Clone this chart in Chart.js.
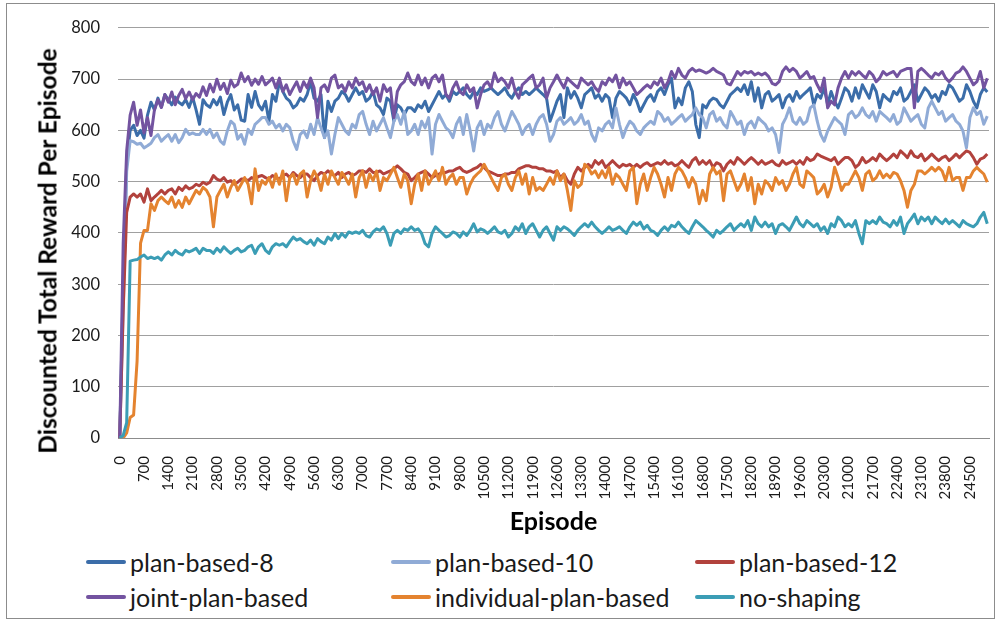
<!DOCTYPE html>
<html>
<head>
<meta charset="utf-8">
<script src="https://cdn.jsdelivr.net/npm/chart.js@4/dist/chart.umd.min.js"></script>
<style>
  body { margin: 0; background: #fff; font-family: Lato, "Noto Sans", sans-serif; }
  #wrap { position: relative; width: 1000px; height: 623px; }
  #frame { position: absolute; left: 6px; top: 3px; width: 987px; height: 614px; border: 1px solid #8c8c8c; }
  #chartBox { position: absolute; left: 0; top: 0; width: 1000px; height: 545px; }
  #yTitle { position: absolute; left: 47px; top: 251px; transform: translate(-50%, -50%) rotate(-90deg);
            font-size: 24.5px; font-weight: bold; color: #000; white-space: nowrap; }
  .leg { position: absolute; height: 30px; display: flex; align-items: center; font-size: 25px; color: #1a1a1a; white-space: nowrap; }
  .leg span.sw { display: inline-block; width: 40px; height: 4px; border-radius: 2px; margin-right: 4px; }
</style>
</head>
<body>
<div id="wrap">
  <div id="frame"></div>
  <div id="chartBox"><canvas id="rewardChart"></canvas></div>
  <div id="yTitle">Discounted Total Reward Per Episode</div>
  <div id="legend"></div>
</div>
<script>
const episodeStep = 100;
const episodeCount = 251;
const labelEvery = 7;

const seriesNames = ["plan-based-8", "plan-based-10", "plan-based-12", "joint-plan-based", "individual-plan-based", "no-shaping"];
const seriesColors = ["#3b6da9", "#90abd6", "#b2423d", "#7353a0", "#e4832f", "#3b9db5"];

const planBased8 = [
  0, 300, 540, 600, 610, 590, 600, 585, 630, 655, 640, 663, 645, 670, 660, 650, 665, 655, 650, 660,
  645, 665, 640, 612, 660, 650, 645, 660, 650, 665, 631, 655, 670, 640, 650, 620, 618, 670, 645, 676,
  650, 640,
  657, 618, 670, 657, 695, 676, 663, 657, 644, 650, 663, 657, 670, 695, 663, 657, 670, 586, 657, 637,
  657, 663, 676, 670, 657, 670, 683, 670, 676, 657, 663, 676, 650, 644, 631, 663, 657, 618, 650, 644,
  631, 644,
  644, 637, 650, 644, 657, 637, 650, 663, 676, 663, 670, 657, 676, 670, 676, 683, 670, 663, 676, 670,
  683, 676, 679, 683, 676, 670, 676, 683, 670, 663, 676, 683, 670, 676, 670, 676, 683, 676, 670, 663,
  618, 637,
  657, 670, 625, 683, 663, 676, 663, 644, 670, 676, 683, 663, 670, 657, 670, 663, 625, 663, 676, 670,
  663, 650, 670, 657, 637, 650, 663, 670, 657, 676, 683, 670, 689, 702, 644, 663, 650, 683, 695, 676,
  612, 586,
  650, 644, 657, 663, 660, 650, 644, 657, 670, 676, 683, 676, 689, 670, 695, 657, 683, 644, 670, 676,
  657, 663, 670, 644, 663, 670, 657, 676, 663, 670, 676, 683, 650, 670, 663, 683, 650, 676, 657, 644,
  663, 683,
  676, 657, 683, 663, 689, 676, 663, 689, 676, 644, 670, 663, 657, 676, 670, 683, 657, 663, 676, 689,
  657, 670, 683, 676, 663, 670, 657, 676, 670, 689, 683, 670, 657, 663, 689, 676, 657, 644, 670, 683,
  675
];

const planBased10 = [
  0, 250, 520, 580, 578, 573, 575, 566, 570, 575, 586, 592, 579, 586, 592, 579, 592, 576, 586, 602,
  592, 595, 592, 592, 602, 592, 602, 586, 595, 579, 573, 599, 618, 612, 583, 592, 573, 602, 592, 612,
  618, 625,
  625, 612, 618, 605, 612, 599, 612, 605, 579, 563, 592, 599, 586, 612, 592, 625, 605, 586, 599, 554,
  592, 625, 612, 599, 592, 612, 605, 631, 637, 612, 592, 618, 599, 612, 625, 605, 586, 618, 631, 612,
  637, 592,
  599, 612, 592, 618, 605, 625, 554, 612, 631, 618, 605, 599, 586, 612, 625, 592, 631, 599, 560, 605,
  618, 592, 612, 605, 625, 637, 612, 599, 618, 637, 625, 612, 592, 605, 612, 592, 612, 625, 631, 612,
  579, 592,
  618, 625, 612, 618, 625, 612, 618, 631, 612, 618, 592, 579, 605, 599, 612, 618, 605, 644, 612, 586,
  605, 618, 612, 599, 592, 605, 612, 618, 612, 637, 631, 618, 625, 612, 618, 625, 631, 618, 625, 631,
  644, 631,
  625, 605, 631, 637, 618, 625, 612, 605, 637, 625, 612, 618, 592, 612, 618, 605, 625, 618, 612, 599,
  605, 592, 557, 612, 625, 644, 618, 612, 625, 612, 618, 644, 650, 618, 592, 579, 599, 612, 625, 618,
  612, 592,
  631, 637, 625, 631, 644, 631, 625, 637, 618, 637, 631, 625, 618, 631, 612, 618, 644, 631, 618, 625,
  631, 612, 605, 644, 657, 644, 631, 637, 618, 625, 631, 618, 612, 599, 566, 625, 644, 631, 637, 612,
  628
];

const planBased12 = [
  0, 250, 440, 470, 476, 470, 476, 460, 486, 463, 470, 476, 483, 476, 483, 486, 476, 489, 483, 492,
  486, 489, 495, 492, 499, 495, 499, 512, 505, 502, 508, 499, 502, 495, 499, 505, 505, 502, 508, 505,
  510, 512,
  508, 505, 512, 508, 505, 512, 515, 508, 518, 512, 508, 515, 515, 508, 502, 512, 518, 515, 521, 515,
  512, 518, 508, 515, 518, 512, 515, 521, 521, 518, 525, 518, 518, 521, 515, 518, 521, 525, 531, 525,
  518, 515,
  502, 508, 515, 518, 521, 515, 508, 512, 515, 518, 518, 521, 521, 525, 528, 521, 518, 521, 525, 528,
  534, 528, 521, 518, 515, 512, 512, 515, 515, 518, 518, 525, 528, 531, 531, 528, 528, 525, 525, 521,
  521, 518,
  521, 508, 515, 502, 495, 515, 528, 521, 528, 534, 528, 541, 534, 541, 528, 534, 541, 534, 528, 534,
  531, 534, 528, 534, 528, 534, 537, 531, 534, 537, 534, 541, 534, 537, 531, 534, 541, 534, 528, 541,
  547, 534,
  541, 534, 541, 528, 537, 534, 521, 534, 541, 534, 547, 541, 534, 541, 547, 541, 534, 541, 534, 537,
  541, 534, 531, 541, 534, 537, 541, 534, 541, 534, 547, 541, 544, 554, 550, 547, 544, 541, 547, 534,
  541, 547,
  547, 541, 528, 534, 547, 537, 541, 547, 541, 554, 547, 541, 547, 554, 547, 560, 554, 547, 560, 550,
  547, 554, 541, 547, 554, 547, 541, 547, 550, 541, 547, 554, 547, 554, 560, 557, 547, 534, 544, 547,
  554
];

const jointPlanBased = [
  0, 380, 560, 630, 655, 610, 640, 595, 625, 590, 640, 660, 645, 670, 655, 675, 650, 668, 680, 662,
  675, 660, 672, 665, 685, 668, 690, 675, 700, 680, 692, 672, 698, 685, 690, 712, 695, 705, 688, 700,
  690, 705,
  689, 695, 702, 683, 702, 676, 689, 670, 683, 695, 676, 695, 683, 702, 683, 625, 683, 689, 676, 702,
  708, 683, 689, 676, 695, 683, 702, 689, 695, 676, 689, 670, 683, 657, 689, 676, 683, 625, 676, 689,
  695, 712,
  695, 689, 708, 689, 702, 683, 702, 708, 695, 708, 670, 663, 683, 695, 676, 670, 689, 676, 683, 644,
  670, 689, 695, 683, 712, 695, 702, 695, 683, 702, 676, 663, 689, 695, 702, 708, 683, 689, 702, 663,
  683, 695,
  708, 695, 683, 702, 695, 689, 683, 702, 695, 689, 695, 683, 676, 695, 689, 702, 695, 708, 683, 702,
  689, 695, 683, 670, 676, 683, 689, 683, 695, 689, 702, 683, 695, 715, 702, 721, 708, 702, 715, 721,
  715, 718,
  715, 712, 715, 721, 715, 712, 708, 692, 689, 702, 715, 708, 715, 712, 715, 708, 712, 708, 712, 705,
  692, 689, 695, 715, 724, 715, 721, 715, 702, 708, 715, 702, 705, 689, 676, 702, 644, 657, 650, 683,
  702, 715,
  702, 715, 708, 715, 708, 702, 715, 708, 695, 702, 715, 708, 712, 715, 705, 715, 718, 721, 721, 644,
  715, 721, 715, 708, 702, 712, 708, 715, 702, 695, 702, 712, 715, 724, 715, 702, 689, 695, 715, 683,
  702
];

const individualPlanBased = [
  0, 0, 10, 40, 45, 150, 380, 405, 405, 457, 444, 463, 470, 463, 457, 470, 450, 463, 450, 470,
  457, 470, 483, 476, 489, 483, 470, 412, 470, 483, 495, 470, 489, 502, 483, 495, 508, 495, 457, 525,
  483, 502,
  495, 508, 489, 515, 495, 521, 463, 508, 515, 495, 515, 521, 470, 502, 521, 508, 483, 515, 495, 521,
  508, 495, 518, 508, 495, 515, 470, 508, 521, 489, 515, 502, 521, 483, 508, 502, 515, 528, 508, 489,
  515, 502,
  457, 495, 515, 483, 521, 495, 508, 521, 502, 528, 495, 508, 515, 495, 508, 508, 476, 495, 508, 515,
  521, 534, 521, 508, 495, 483, 508, 515, 495, 483, 508, 521, 495, 515, 476, 508, 483, 489, 483, 495,
  508, 495,
  521, 502, 515, 483, 444, 502, 489, 495, 534, 528, 515, 521, 508, 521, 508, 528, 495, 515, 508, 495,
  483, 521, 528, 457, 495, 515, 483, 508, 528, 515, 495, 470, 508, 483, 515, 528, 521, 508, 489, 508,
  495, 457,
  483, 463, 515, 528, 515, 521, 463, 515, 521, 502, 483, 495, 515, 483, 508, 457, 495, 476, 502, 495,
  483, 508, 495, 502, 483, 495, 515, 528, 495, 489, 521, 515, 508, 476, 483, 495, 470, 489, 528, 508,
  483, 495,
  495, 508, 521, 508, 483, 515, 521, 502, 508, 521, 508, 515, 508, 518, 515, 502, 483, 450, 483, 495,
  521, 521, 515, 521, 528, 521, 528, 521, 502, 528, 502, 508, 508, 483, 508, 508, 521, 528, 521, 515,
  499
];

const noShaping = [
  0, 5, 30, 345, 347, 348, 353, 357, 350, 353, 350, 353, 347, 357, 363, 357, 366, 360, 357, 366,
  363, 366, 370, 360, 370, 366, 366, 360, 370, 363, 373, 366, 360, 366, 370, 363, 366, 373, 376, 360,
  373, 379,
  366, 360, 373, 379, 376, 379, 373, 383, 392, 386, 389, 383, 379, 386, 376, 389, 383, 379, 392, 386,
  399, 389, 399, 392, 402, 399, 402, 399, 405, 395, 392, 402, 408, 405, 412, 399, 376, 399, 405, 399,
  408, 405,
  412, 405, 408, 399, 379, 373, 399, 412, 405, 399, 392, 395, 402, 399, 392, 402, 395, 405, 418, 402,
  408, 405, 399, 405, 412, 402, 399, 405, 392, 399, 412, 405, 418, 399, 412, 418, 405, 392, 405, 412,
  399, 386,
  412, 405, 412, 408, 402, 395, 405, 412, 418, 412, 421, 412, 405, 399, 405, 412, 405, 408, 412, 405,
  399, 412, 421, 415, 421, 408, 415, 405, 402, 395, 405, 412, 405, 415, 412, 421, 412, 405, 399, 412,
  424, 418,
  412, 405, 399, 392, 405, 399, 405, 412, 418, 405, 412, 418, 412, 424, 405, 431, 418, 412, 421, 412,
  418, 399, 415, 418, 412, 405, 418, 431, 418, 412, 424, 418, 412, 418, 405, 412, 399, 418, 412, 431,
  424, 412,
  418, 412, 424, 399, 379, 424, 418, 424, 418, 431, 421, 418, 412, 424, 415, 431, 399, 418, 427, 437,
  418, 431, 424, 431, 418, 431, 424, 418, 427, 418, 424, 418, 412, 424, 418, 415, 412, 418, 431, 440,
  418
];

const yTicks = [0, 100, 200, 300, 400, 500, 600, 700, 800];

const episodes = [];
for (let i = 0; i < episodeCount; i++) episodes.push(String(i * episodeStep));

const allSeries = [planBased8, planBased10, planBased12, jointPlanBased, individualPlanBased, noShaping];

document.addEventListener("DOMContentLoaded", () => {
  const ctx = document.getElementById("rewardChart").getContext("2d");

  const datasets = allSeries.map((values, i) => ({
    label: seriesNames[i],
    data: values,
    borderColor: seriesColors[i],
    backgroundColor: seriesColors[i],
    borderWidth: 3,
    pointRadius: 0,
    tension: 0,
    borderJoinStyle: "round",
    order: allSeries.length - i   // later series drawn on top, like Excel
  }));

  new Chart(ctx, {
    type: "line",
    data: { labels: episodes, datasets: datasets },
    options: {
      responsive: true,
      maintainAspectRatio: false,
      animation: false,
      layout: { padding: { top: 24, right: 11, bottom: 0, left: 0 } },
      plugins: { legend: { display: false }, tooltip: { enabled: false } },
      scales: {
        x: {
          offset: true,
          grid: { display: false },
          border: { display: true, color: "#8c8c8c", width: 1 },
          ticks: {
            autoSkip: false,
            maxRotation: 90,
            minRotation: 90,
            padding: 10,
            color: "#1a1a1a",
            font: { family: "Lato", size: 15 },
            callback: function (val, idx) { return idx % labelEvery === 0 ? this.getLabelForValue(val) : null; }
          },
          title: { display: true, text: "Episode", color: "#000", font: { family: "Lato", size: 25, weight: "bold" }, padding: { top: 0, bottom: 8 } },
          afterFit: s => { s.height = 107; }
        },
        y: {
          min: 0,
          max: 800,
          afterBuildTicks: s => { s.ticks = yTicks.map(v => ({ value: v })); },
          grid: { color: "#a0a0a0", lineWidth: 1, drawTicks: false },
          border: { display: false },
          ticks: { padding: 18, color: "#1a1a1a", font: { family: "Lato", size: 16.5 } },
          afterFit: s => { s.width = 118; }
        }
      }
    }
  });

  // legend: 3 columns x 2 rows like the Excel one
  const colLine = [86, 391, 695];
  const rowMid = [562, 597];
  const legend = document.getElementById("legend");
  seriesNames.forEach((name, i) => {
    const item = document.createElement("div");
    item.className = "leg";
    item.style.left = colLine[i % 3] + "px";
    item.style.top = (rowMid[Math.floor(i / 3)] - 15) + "px";
    item.innerHTML = `<span class="sw" style="background:${seriesColors[i]}"></span>${name}`;
    legend.appendChild(item);
  });
});
</script>
</body>
</html>
